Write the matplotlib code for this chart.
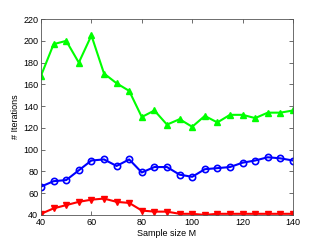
import numpy as np
import matplotlib.pyplot as plt

# sample sizes and number of iterations per method
M = np.arange(40, 145, 5)
iter_green = [168, 197, 200, 180, 205, 170, 161, 154, 130, 136, 123, 128, 121,
              131, 125, 132, 132, 129, 134, 134, 136]
iter_blue = [66, 71, 72, 81, 90, 91, 85, 91, 79, 84, 84, 77, 75,
             82, 83, 84, 88, 90, 93, 92, 90]
iter_red = [41, 46, 49, 52, 54, 55, 52, 51, 44, 43, 43, 41, 41,
            40, 41, 41, 41, 41, 41, 41, 41]

plt.rcParams['font.family'] = ['Liberation Sans', 'DejaVu Sans']
plt.rcParams['font.size'] = 6.5

fig = plt.figure(figsize=(3.23, 2.42), dpi=100)
ax = fig.add_axes([0.127, 0.112, 0.780, 0.809])

ax.plot(M, iter_green, color='#00ff00', marker='^', markersize=4.5, linewidth=1.5)
ax.plot(M, iter_blue, color='#0000ff', marker='o', markersize=4.5, linewidth=1.5,
        markerfacecolor='none', markeredgewidth=1.2)
ax.plot(M, iter_red, color='#ff0000', marker='v', markersize=4.5, linewidth=1.5)

ax.set_xlim(40, 140)
ax.set_ylim(40, 220)
ax.set_xticks(np.arange(40, 141, 20))
ax.set_yticks(np.arange(40, 221, 20))
ax.tick_params(direction='in', top=True, right=True, length=3, width=0.5,
               pad=2, colors='#333333', labelcolor='black')
for s in ax.spines.values():
    s.set_linewidth(0.6)
    s.set_color('#555555')

ax.set_xlabel('Sample size M', labelpad=2)
ax.set_ylabel('# Iterations', labelpad=2)

fig.savefig('out.png', dpi=100)
